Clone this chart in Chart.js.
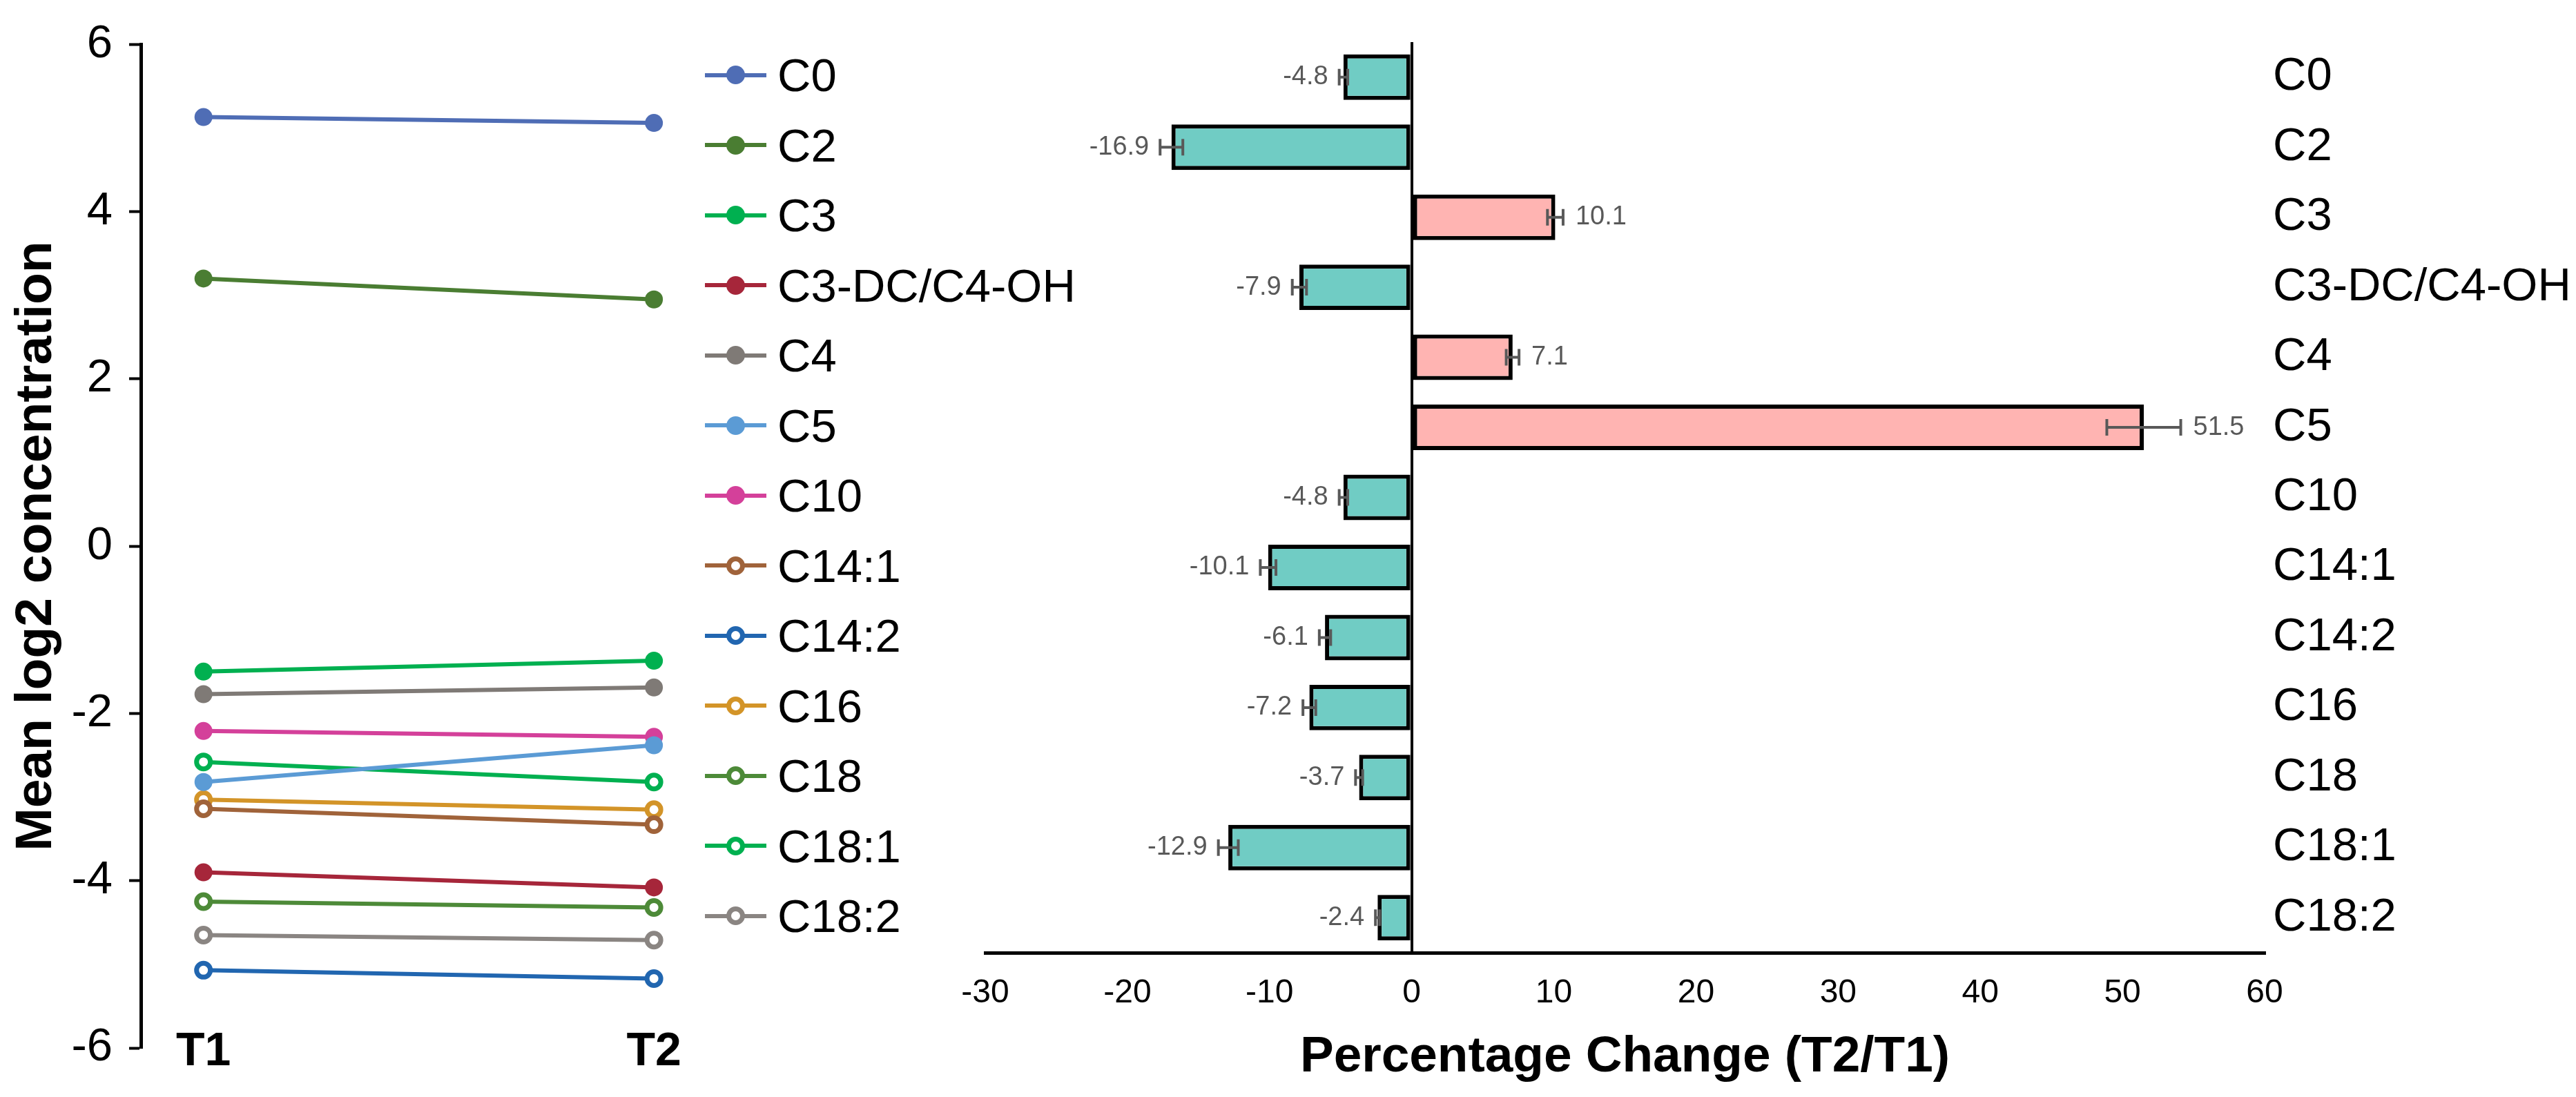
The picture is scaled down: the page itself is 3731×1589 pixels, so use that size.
<!DOCTYPE html>
<html>
<head>
<meta charset="utf-8">
<script src="https://cdn.jsdelivr.net/npm/chart.js@4.4.1/dist/chart.umd.min.js"></script>
<style>
  html, body { margin: 0; padding: 0; background: #ffffff; }
  body { width: 3731px; height: 1589px; position: relative; overflow: hidden; font-family: "Liberation Sans", Arial, sans-serif; }
  #lineBox { position: absolute; left: 0; top: 0; width: 1000px; height: 1589px; }
  #barBox { position: absolute; left: 1300px; top: 0; width: 2431px; height: 1589px; }
  #legend { position: absolute; left: 1021px; top: 58px; }
  .row { height: 101.5px; display: flex; align-items: center; }
  .key { position: relative; width: 89px; height: 6px; }
  .key .dot { position: absolute; left: 31px; top: -10.5px; width: 27px; height: 27px; border-radius: 50%; box-sizing: border-box; }
  .row span { font-size: 67px; margin-left: 16px; color: #000; line-height: 1; }
</style>
</head>
<body>
<div id="lineBox"><canvas id="lineChart"></canvas></div>
<div id="legend"></div>
<div id="barBox"><canvas id="barChart"></canvas></div>
<script>
// acylcarnitines, top to bottom
const analytes = ['C0', 'C2', 'C3', 'C3-DC/C4-OH', 'C4', 'C5', 'C10', 'C14:1', 'C14:2', 'C16', 'C18', 'C18:1', 'C18:2'];
const timePoints = ['T1', 'T2'];

// mean log2 concentration at each time point
const t1Values = [5.13, 3.20, -1.50, -3.90, -1.77, -2.82, -2.21, -3.14, -5.07, -3.03, -4.25, -2.58, -4.65];
const t2Values = [5.06, 2.95, -1.37, -4.08, -1.69, -2.38, -2.28, -3.33, -5.17, -3.15, -4.32, -2.82, -4.71];

// percentage change T2/T1 and its error
const pctChange = [-4.8, -16.9, 10.1, -7.9, 7.1, 51.5, -4.8, -10.1, -6.1, -7.2, -3.7, -12.9, -2.4];
const pctError = [0.3, 0.8, 0.55, 0.5, 0.45, 2.6, 0.3, 0.55, 0.4, 0.45, 0.25, 0.7, 0.15];

const logTicks = [-6, -4, -2, 0, 2, 4, 6];
const pctTicks = [-30, -20, -10, 0, 10, 20, 30, 40, 50, 60];

// styles
const lineColors = ['#4f6db5', '#4a7d32', '#00b050', '#a6263a', '#7f7a76', '#5b9bd5', '#d4409a',
                    '#a0633a', '#2166b0', '#d39428', '#4d8a38', '#00b050', '#8a8582'];
const openMarker = [false, false, false, false, false, false, false, true, true, true, true, true, true];
const FONT = '"Liberation Sans", Arial, sans-serif';

Chart.defaults.font.family = FONT;
Chart.defaults.color = '#000';

const lineDatasets = analytes.map((name, i) => ({
  label: name,
  data: [{x: 0, y: t1Values[i]}, {x: 1, y: t2Values[i]}],
  borderColor: lineColors[i],
  borderWidth: 6,
  pointRadius: openMarker[i] ? 10 : 13,
  pointBorderWidth: openMarker[i] ? 7 : 0,
  pointBorderColor: lineColors[i],
  pointBackgroundColor: openMarker[i] ? '#ffffff' : lineColors[i],
  clip: false
}));

// T1 / T2 sit level with the bottom of the y axis
const timeLabels = {
  id: 'timeLabels',
  afterDraw(chart) {
    const { ctx, scales: { x }, chartArea } = chart;
    ctx.save();
    ctx.font = 'bold 68px ' + FONT;
    ctx.fillStyle = '#000';
    ctx.textAlign = 'center';
    ctx.textBaseline = 'middle';
    timePoints.forEach((t, i) => ctx.fillText(t, x.getPixelForValue(i), chartArea.bottom + 6));
    ctx.restore();
  }
};

new Chart(document.getElementById('lineChart'), {
  type: 'line',
  data: { datasets: lineDatasets },
  plugins: [timeLabels],
  options: {
    responsive: true,
    maintainAspectRatio: false,
    devicePixelRatio: 1,
    animation: false,
    layout: { padding: { top: 64, right: 0, bottom: 0, left: 0 } },
    plugins: { legend: { display: false }, tooltip: { enabled: false } },
    scales: {
      x: {
        type: 'linear',
        min: -0.139,
        max: 1.055,
        afterBuildTicks: s => { s.ticks = timePoints.map((_, i) => ({ value: i })); },
        afterFit: s => { s.height = 71; },
        ticks: { display: false },
        grid: { display: false, drawTicks: false },
        border: { display: false }
      },
      y: {
        min: -6,
        max: 6,
        afterBuildTicks: s => { s.ticks = logTicks.map(v => ({ value: v })); },
        afterFit: s => { s.width = 204; },
        ticks: { font: { size: 67 }, padding: 24 },
        grid: { drawOnChartArea: false, color: '#000', tickLength: 17, tickWidth: 4 },
        border: { display: true, color: '#000', width: 5 },
        title: {
          display: true,
          text: 'Mean log2 concentration',
          font: { size: 75, weight: 'bold' },
          padding: { top: 8, bottom: 0 }
        }
      }
    }
  }
});

// legend: line with marker, as in the original
const legend = document.getElementById('legend');
analytes.forEach((name, i) => {
  const row = document.createElement('div');
  row.className = 'row';
  const key = document.createElement('div');
  key.className = 'key';
  key.style.background = lineColors[i];
  const dot = document.createElement('div');
  dot.className = 'dot';
  dot.style.background = openMarker[i] ? '#ffffff' : lineColors[i];
  dot.style.border = openMarker[i] ? '7px solid ' + lineColors[i] : 'none';
  key.appendChild(dot);
  const label = document.createElement('span');
  label.textContent = name;
  row.appendChild(key);
  row.appendChild(label);
  legend.appendChild(row);
});

// error bars and value labels for the bar chart
const errorBars = {
  id: 'errorBars',
  afterDatasetsDraw(chart) {
    const { ctx, scales: { x } } = chart;
    const meta = chart.getDatasetMeta(0);
    ctx.save();
    ctx.strokeStyle = '#595959';
    ctx.fillStyle = '#595959';
    ctx.lineWidth = 4;
    ctx.font = '38px ' + FONT;
    ctx.textBaseline = 'middle';
    meta.data.forEach((bar, i) => {
      const v = pctChange[i], e = pctError[i];
      const x0 = x.getPixelForValue(v - e);
      const x1 = x.getPixelForValue(v + e);
      const y = bar.y;
      ctx.beginPath();
      ctx.moveTo(x0, y); ctx.lineTo(x1, y);
      ctx.moveTo(x0, y - 12); ctx.lineTo(x0, y + 12);
      ctx.moveTo(x1, y - 12); ctx.lineTo(x1, y + 12);
      ctx.stroke();
      if (v < 0) {
        ctx.textAlign = 'right';
        ctx.fillText(v.toFixed(1), x0 - 16, y);
      } else {
        ctx.textAlign = 'left';
        ctx.fillText(v.toFixed(1), x1 + 18, y);
      }
    });
    ctx.restore();
  }
};

new Chart(document.getElementById('barChart'), {
  type: 'bar',
  data: {
    labels: analytes,
    datasets: [{
      data: pctChange,
      backgroundColor: c => (c.raw < 0 ? '#70ccc4' : '#ffb4b2'),
      borderColor: '#000',
      borderWidth: 6,
      borderSkipped: false,
      barPercentage: 0.65,
      categoryPercentage: 1.0
    }]
  },
  plugins: [errorBars],
  options: {
    indexAxis: 'y',
    responsive: true,
    maintainAspectRatio: false,
    devicePixelRatio: 1,
    animation: false,
    layout: { padding: { top: 61, right: 0, bottom: 0, left: 127 } },
    plugins: { legend: { display: false }, tooltip: { enabled: false } },
    scales: {
      x: {
        min: -30,
        max: 60,
        afterBuildTicks: s => { s.ticks = pctTicks.map(v => ({ value: v })); },
        afterFit: s => { s.height = 209; },
        ticks: { font: { size: 48 }, padding: 30, maxRotation: 0 },
        grid: {
          drawTicks: false,
          lineWidth: 4,
          color: c => (c.tick && c.tick.value === 0 ? '#000' : 'rgba(0,0,0,0)')
        },
        border: { display: true, color: '#000', width: 5 },
        title: {
          display: true,
          text: 'Percentage Change (T2/T1)',
          font: { size: 73, weight: 'bold' },
          padding: { top: 0, bottom: 13 }
        }
      },
      y: {
        position: 'right',
        afterFit: s => { s.width = 451; },
        ticks: { font: { size: 67 }, padding: 4 },
        grid: { display: false },
        border: { display: false }
      }
    }
  }
});
</script>
</body>
</html>
